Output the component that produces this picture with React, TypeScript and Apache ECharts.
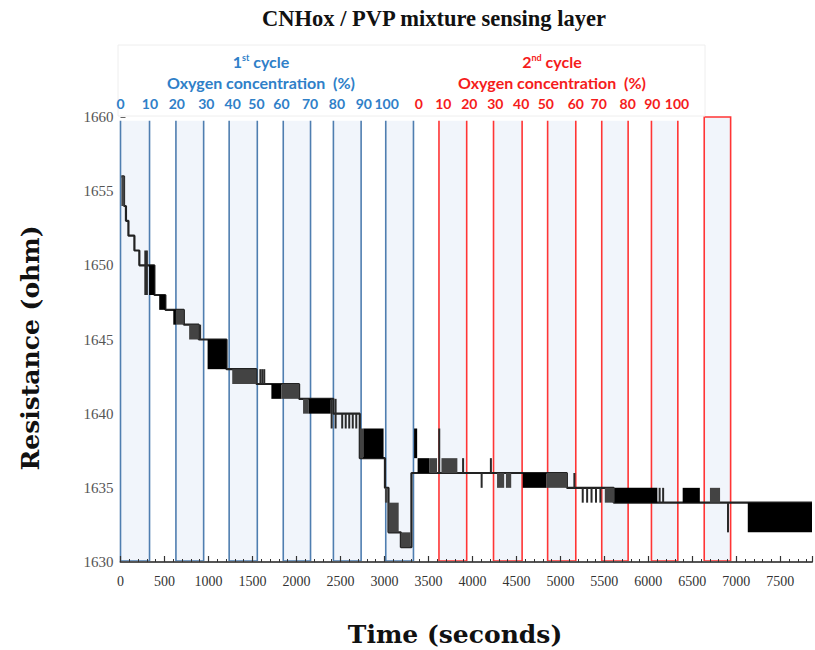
import React, { useEffect, useRef } from 'react';
import * as echarts from 'echarts';

// ---------- data ----------
const xMin = 0;
const xMax = 7860;
const xInterval = 500;
const yMin = 1630;
const yMax = 1660;
const yInterval = 5;

// exposure bands (seconds)
const blueBandStart = [0, 630, 1235, 1850, 2420, 3015];
const blueBandEnd = [330, 945, 1555, 2160, 2735, 3330];
const redBandStart = [3620, 4240, 4855, 5470, 6035, 6635];
const redBandEnd = [3935, 4565, 5175, 5770, 6335, 6935];
const bandTop = 1659.75;
const lastBandTop = 1660;

// oxygen concentration labels
const blueLabels = ['0', '10', '20', '30', '40', '50', '60', '70', '80', '90', '100'];
const blueLabelTimes = [0, 335, 640, 975, 1275, 1545, 1830, 2155, 2460, 2765, 3025];
const redLabels = ['0', '10', '20', '30', '40', '50', '60', '70', '80', '90', '100'];
const redLabelTimes = [3390, 3670, 3965, 4260, 4555, 4835, 5175, 5435, 5765, 6045, 6325];

// baseline step trace (time, resistance)
const stepTimes = [10, 40, 62, 90, 158, 214, 385, 510, 720, 890, 1205, 1545, 2030, 2420, 2720, 3006, 3046, 3187, 3307, 5074, 5606, 7860];
const stepValues = [1656, 1654, 1653, 1652, 1651, 1650, 1648, 1647, 1646, 1645, 1643, 1642, 1641, 1640, 1637, 1635, 1632, 1631, 1636, 1635, 1634, 1634];

// dense oscillation blocks
const blockStart = [10, 325, 440, 600, 630, 780, 990, 1270, 1715, 1830, 2075, 2140, 2720, 2760, 3006, 3046, 3187, 3337, 3377, 3508, 3648, 4280, 4381, 4572, 4843, 5505, 5616, 6390, 6700, 7130];
const blockEnd = [45, 385, 510, 630, 720, 890, 1205, 1545, 1830, 2030, 2140, 2390, 2760, 2990, 3036, 3162, 3297, 3372, 3508, 3598, 3829, 4361, 4441, 4843, 5079, 5616, 6102, 6585, 6815, 7860];
const blockLow = [1654, 1648, 1647, 1646, 1646, 1645, 1643, 1642, 1641, 1641, 1640, 1640, 1637, 1637, 1634, 1632, 1631, 1637, 1636, 1636, 1636, 1635, 1635, 1635, 1635, 1634, 1634, 1634, 1634, 1632];
const blockHigh = [1656, 1650, 1648, 1647, 1647, 1646, 1645, 1643, 1642, 1642, 1641, 1641, 1639, 1639, 1635, 1634, 1632, 1639, 1637, 1637, 1637, 1636, 1636, 1636, 1636, 1635, 1635, 1635, 1635, 1634];
const blockDark = [0, 1, 1, 1, 0, 0, 1, 0, 1, 0, 0, 1, 0, 1, 0, 0, 0, 1, 1, 0, 0, 0, 0, 1, 0, 0, 1, 1, 0, 1];

// single spikes
const spikeTimes = [282, 300, 905, 1590, 1612, 1634, 2400, 2445, 2520, 2560, 2600, 2640, 2680, 3623, 3894, 4105, 4210, 5159, 5254, 5304, 5354, 5405, 5455, 6128, 6168, 6905];
const spikeLow = [1648, 1648, 1645, 1642, 1642, 1642, 1639, 1639, 1639, 1639, 1639, 1639, 1639, 1636, 1636, 1635, 1636, 1635, 1634, 1634, 1634, 1634, 1634, 1634, 1634, 1632];
const spikeHigh = [1651, 1651, 1646, 1643, 1643, 1643, 1641, 1641, 1640, 1640, 1640, 1640, 1640, 1639, 1637, 1636, 1637, 1636, 1635, 1635, 1635, 1635, 1635, 1635, 1635, 1634];

// ---------- styles ----------
const BLUE_LINE = '#4f7eb0';
const RED_LINE = '#ff3535';
const BAND_FILL = '#f1f5fb';
const BLUE_TEXT = '#2f80c8';
const RED_TEXT = '#f51c1c';
const SERIF = '"Liberation Serif", "Times New Roman", serif';
const WIDE_SERIF = '"DejaVu Serif", "Liberation Serif", serif';
const SANS = 'Lato, "Open Sans", sans-serif';

export default function App() {
  const ref = useRef<HTMLDivElement>(null);

  useEffect(() => {
    document.body.style.margin = '0';
    const chart = echarts.init(ref.current!, null, { renderer: 'svg' });

    const bandData: any[] = [];
    blueBandStart.forEach((s, i) => bandData.push([s, blueBandEnd[i], bandTop, 0, 0]));
    redBandStart.forEach((s, i) =>
      bandData.push([s, redBandEnd[i], i === redBandStart.length - 1 ? lastBandTop : bandTop, 1, i === redBandStart.length - 1 ? 1 : 0])
    );

    const blockData = blockStart.map((s, i) => [s, blockEnd[i], blockLow[i], blockHigh[i], blockDark[i]]);
    const spikeData = spikeTimes.map((t, i) => [t, spikeLow[i], spikeHigh[i]]);
    const stepData = stepTimes.map((t, i) => [t, stepValues[i]]);

    const option: any = {
      animation: false,
      grid: { left: 120.5, right: 0, top: 117, bottom: 88 },
      xAxis: {
        type: 'value',
        min: xMin,
        max: xMax,
        interval: xInterval,
        z: 10,
        axisLine: { show: true, lineStyle: { color: '#555', width: 2 } },
        axisTick: { show: true, inside: true, length: 6, lineStyle: { color: '#333', width: 1.2 } },
        minorTick: { show: true, splitNumber: 5, length: 3, lineStyle: { color: '#333', width: 1 } },
        splitLine: { show: false },
        axisLabel: {
          margin: 12,
          color: '#333',
          fontFamily: SERIF,
          fontSize: 14,
          formatter: (v: number) => (v % xInterval === 0 ? String(v) : ''),
        },
      },
      yAxis: {
        type: 'value',
        min: yMin,
        max: yMax,
        interval: yInterval,
        axisLine: { show: false },
        axisTick: { show: true, inside: true, length: 5, lineStyle: { color: '#666' } },
        splitLine: { show: false },
        axisLabel: {
          margin: 7,
          color: '#555',
          fontFamily: SERIF,
          fontSize: 15,
          formatter: (v: number) => String(v),
        },
      },
      series: [
        {
          type: 'custom',
          name: 'bands',
          z: 1,
          silent: true,
          encode: { x: [0, 1], y: 2 },
          data: bandData,
          renderItem: (params: any, api: any) => {
            const t0 = api.value(0);
            const t1 = api.value(1);
            const top = api.value(2);
            const cyc = api.value(3);
            const closed = api.value(4);
            const p0 = api.coord([t0, top]);
            const p1 = api.coord([t1, yMin]);
            const color = cyc === 0 ? BLUE_LINE : RED_LINE;
            const children: any[] = [
              {
                type: 'rect',
                shape: { x: p0[0], y: p0[1], width: p1[0] - p0[0], height: p1[1] - p0[1] },
                style: { fill: BAND_FILL },
              },
            ];
            if (closed) {
              children.push({
                type: 'rect',
                shape: { x: p0[0], y: p0[1], width: p1[0] - p0[0], height: p1[1] - p0[1] - 1 },
                style: { fill: 'none', stroke: color, lineWidth: 1.6 },
              });
            } else {
              children.push({
                type: 'polyline',
                shape: {
                  points: [
                    [p0[0], p0[1]],
                    [p0[0], p1[1] - 1],
                    [p1[0], p1[1] - 1],
                    [p1[0], p0[1]],
                  ],
                },
                style: { fill: 'none', stroke: color, lineWidth: 1.6 },
              });
            }
            return { type: 'group', children };
          },
        },
        {
          type: 'line',
          name: 'trace',
          z: 3,
          step: 'end',
          showSymbol: false,
          silent: true,
          data: stepData,
          lineStyle: { color: '#222', width: 2.2 },
        },
        {
          type: 'custom',
          name: 'blocks',
          z: 4,
          silent: true,
          encode: { x: [0, 1], y: [2, 3] },
          data: blockData,
          renderItem: (params: any, api: any) => {
            const a = api.coord([api.value(0), api.value(3)]);
            const b = api.coord([api.value(1), api.value(2)]);
            return {
              type: 'rect',
              shape: { x: a[0], y: a[1], width: Math.max(b[0] - a[0], 1.5), height: b[1] - a[1] },
              style: { fill: api.value(4) === 1 ? '#000000' : '#434343' },
            };
          },
        },
        {
          type: 'custom',
          name: 'spikes',
          z: 5,
          silent: true,
          encode: { x: 0, y: [1, 2] },
          data: spikeData,
          renderItem: (params: any, api: any) => {
            const a = api.coord([api.value(0), api.value(1)]);
            const b = api.coord([api.value(0), api.value(2)]);
            return {
              type: 'line',
              shape: { x1: a[0], y1: a[1], x2: b[0], y2: b[1] },
              style: { stroke: '#2a2a2a', lineWidth: 2 },
            };
          },
        },
      ],
    };

    chart.setOption(option);

    const px = (t: number) => chart.convertToPixel({ xAxisIndex: 0 }, t) as number;
    const txt = (x: number, y: number, text: string, fill: string, font: string, extra: any = {}) => ({
      type: 'text',
      x,
      y,
      z: 20,
      silent: true,
      style: {
        text,
        fill,
        font,
        align: 'center',
        verticalAlign: 'middle',
        textAlign: 'center',
        textVerticalAlign: 'middle',
        ...extra,
      },
    });

    const numFont = `bold 14px ${SANS}`;
    const headFont = `bold 16px ${SANS}`;
    const graphics: any[] = [
      {
        type: 'rect',
        z: 15,
        silent: true,
        shape: { x: 118, y: 45, width: 587, height: 71 },
        style: { fill: '#ffffff', stroke: '#eeeeee', lineWidth: 1 },
      },
      txt(434, 18, 'CNHox / PVP mixture sensing layer', '#111', `bold 22.5px ${SERIF}`),
      txt(455, 634, 'Time (seconds)', '#111', `bold 25px ${WIDE_SERIF}`),
      {
        type: 'text',
        x: 30,
        y: 348,
        z: 20,
        rotation: Math.PI / 2,
        silent: true,
        style: {
          text: 'Resistance (ohm)',
          fill: '#111',
          font: `bold 25px ${WIDE_SERIF}`,
          align: 'center',
          verticalAlign: 'middle',
          textAlign: 'center',
          textVerticalAlign: 'middle',
        },
      },
      txt(261, 61, '{a|1}{s|st}{a| cycle}', BLUE_TEXT, headFont, {
        rich: {
          a: { font: headFont, fill: BLUE_TEXT },
          s: { font: `bold 9px ${SANS}`, fill: BLUE_TEXT, padding: [0, 0, 7, 0] },
        },
      }),
      txt(261, 82, 'Oxygen concentration  (%)', BLUE_TEXT, headFont),
      txt(552, 61, '{a|2}{s|nd}{a| cycle}', RED_TEXT, headFont, {
        rich: {
          a: { font: headFont, fill: RED_TEXT },
          s: { font: `bold 9px ${SANS}`, fill: RED_TEXT, padding: [0, 0, 7, 0] },
        },
      }),
      txt(552, 82, 'Oxygen concentration  (%)', RED_TEXT, headFont),
    ];
    blueLabelTimes.forEach((t, i) => graphics.push(txt(px(t), 103, blueLabels[i], BLUE_TEXT, numFont)));
    redLabelTimes.forEach((t, i) => graphics.push(txt(px(t), 103, redLabels[i], RED_TEXT, numFont)));

    chart.setOption({ graphic: graphics });

    return () => chart.dispose();
  }, []);

  return <div ref={ref} style={{ width: 815, height: 650 }} />;
}
